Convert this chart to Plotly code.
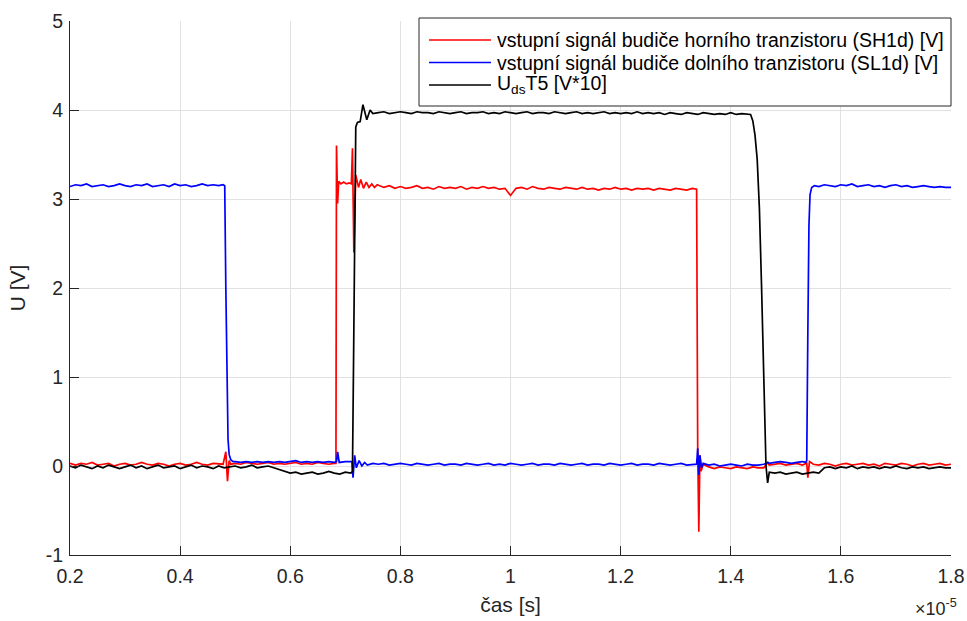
import numpy as np
import plotly.graph_objects as go

# time in units of 1e-5 s, values in V
x_ticks = [0.2, 0.4, 0.6, 0.8, 1.0, 1.2, 1.4, 1.6, 1.8]
x_tick_labels = ["0.2", "0.4", "0.6", "0.8", "1", "1.2", "1.4", "1.6", "1.8"]
y_ticks = [-1, 0, 1, 2, 3, 4, 5]

legend_names = [
    "vstupní signál budiče horního tranzistoru (SH1d) [V]",
    "vstupní signál budiče dolního tranzistoru (SL1d) [V]",
    "U<sub>ds</sub>T5 [V*10]",
]

red_pts = [
    (0.20, 0.03), (0.21, 0.01), (0.22, 0.03), (0.23, 0.02), (0.24, 0.04), (0.25, 0.01), (0.26, 0.02),
    (0.27, 0.03), (0.28, 0.00), (0.29, 0.02), (0.30, 0.03), (0.31, 0.01), (0.32, 0.02), (0.33, 0.04),
    (0.34, 0.02), (0.35, 0.01), (0.36, 0.03), (0.37, 0.02), (0.38, 0.00), (0.39, 0.02), (0.40, 0.03),
    (0.41, 0.01), (0.42, 0.02), (0.43, 0.04), (0.44, 0.02), (0.45, 0.01), (0.46, 0.03), (0.47, 0.02),
    (0.478, 0.02), (0.483, 0.16), (0.486, -0.17), (0.489, 0.06), (0.492, 0.02),
    (0.50, 0.03), (0.51, 0.02), (0.52, 0.04), (0.53, 0.03), (0.54, 0.02), (0.55, 0.03), (0.56, 0.04),
    (0.57, 0.02), (0.58, 0.03), (0.59, 0.02), (0.60, 0.03), (0.61, 0.04), (0.62, 0.02), (0.63, 0.03),
    (0.64, 0.02), (0.65, 0.04), (0.66, 0.03), (0.67, 0.02), (0.68, 0.03),
    (0.683, 0.03), (0.684, 3.60), (0.686, 2.95), (0.688, 3.20), (0.692, 3.17), (0.697, 3.19),
    (0.702, 3.17), (0.707, 3.18), (0.711, 3.17), (0.713, 3.57), (0.7155, 2.40), (0.719, 3.27),
    (0.724, 3.13), (0.728, 3.22), (0.733, 3.12), (0.738, 3.19), (0.743, 3.13), (0.748, 3.17),
    (0.753, 3.13), (0.758, 3.16),
    (0.77, 3.13), (0.78, 3.15), (0.79, 3.12), (0.80, 3.14), (0.81, 3.12), (0.82, 3.13), (0.83, 3.15),
    (0.84, 3.12), (0.85, 3.13), (0.86, 3.11), (0.87, 3.14), (0.88, 3.12), (0.89, 3.13), (0.90, 3.12),
    (0.91, 3.14), (0.92, 3.11), (0.93, 3.13), (0.94, 3.12), (0.95, 3.14), (0.96, 3.12), (0.97, 3.13),
    (0.98, 3.11), (0.99, 3.12), (1.00, 3.04), (1.01, 3.12), (1.02, 3.13), (1.03, 3.11), (1.04, 3.14),
    (1.05, 3.12), (1.06, 3.11), (1.07, 3.13), (1.08, 3.12), (1.09, 3.11), (1.10, 3.13), (1.11, 3.12),
    (1.12, 3.11), (1.13, 3.13), (1.14, 3.11), (1.15, 3.12), (1.16, 3.10), (1.17, 3.12), (1.18, 3.11),
    (1.19, 3.13), (1.20, 3.11), (1.21, 3.12), (1.22, 3.10), (1.23, 3.12), (1.24, 3.11), (1.25, 3.12),
    (1.26, 3.10), (1.27, 3.12), (1.28, 3.11), (1.29, 3.10), (1.30, 3.12), (1.31, 3.11), (1.32, 3.10),
    (1.33, 3.12), (1.338, 3.11),
    (1.340, 0.20), (1.342, -0.74), (1.344, 0.12), (1.346, -0.06), (1.350, 0.02),
    (1.36, -0.01), (1.37, -0.03), (1.38, -0.01), (1.39, -0.02), (1.40, -0.03), (1.41, -0.01),
    (1.42, -0.02), (1.43, -0.03), (1.44, -0.01), (1.45, -0.02), (1.46, -0.02),
    (1.467, 0.04), (1.47, 0.01), (1.48, 0.02), (1.49, 0.03), (1.50, 0.01), (1.51, 0.02), (1.52, 0.03),
    (1.53, 0.01), (1.538, 0.03), (1.540, -0.13), (1.543, 0.05), (1.55, 0.02),
    (1.56, 0.01), (1.57, 0.03), (1.58, 0.02), (1.59, 0.00), (1.60, 0.02), (1.61, 0.03), (1.62, 0.01),
    (1.63, 0.02), (1.64, 0.03), (1.65, 0.01), (1.66, 0.02), (1.67, 0.00), (1.68, 0.03), (1.69, 0.02),
    (1.70, 0.01), (1.71, 0.03), (1.72, 0.02), (1.73, 0.00), (1.74, 0.02), (1.75, 0.03), (1.76, 0.01),
    (1.77, 0.02), (1.78, 0.03), (1.79, 0.01), (1.80, 0.02),
]

blue_pts = [
    (0.20, 3.14), (0.21, 3.16), (0.22, 3.15), (0.23, 3.17), (0.24, 3.14), (0.25, 3.15), (0.26, 3.16),
    (0.27, 3.14), (0.28, 3.15), (0.29, 3.17), (0.30, 3.15), (0.31, 3.14), (0.32, 3.16), (0.33, 3.15),
    (0.34, 3.17), (0.35, 3.14), (0.36, 3.15), (0.37, 3.16), (0.38, 3.14), (0.39, 3.17), (0.40, 3.15),
    (0.41, 3.16), (0.42, 3.14), (0.43, 3.15), (0.44, 3.17), (0.45, 3.15), (0.46, 3.16), (0.47, 3.15),
    (0.478, 3.16), (0.481, 3.15), (0.483, 2.00), (0.485, 0.80), (0.487, 0.30), (0.489, 0.13),
    (0.492, 0.07), (0.496, 0.05),
    (0.50, 0.05), (0.51, 0.04), (0.52, 0.05), (0.53, 0.04), (0.54, 0.05), (0.55, 0.04), (0.56, 0.05),
    (0.57, 0.04), (0.58, 0.05), (0.59, 0.04), (0.60, 0.05), (0.61, 0.06), (0.62, 0.04), (0.63, 0.05),
    (0.64, 0.04), (0.65, 0.05), (0.66, 0.04), (0.67, 0.05), (0.68, 0.04),
    (0.684, 0.05), (0.686, 0.16), (0.689, 0.04), (0.70, 0.05), (0.712, 0.05), (0.714, -0.13),
    (0.717, 0.12), (0.720, -0.02), (0.725, 0.06), (0.730, 0.00), (0.735, 0.04), (0.740, 0.01),
    (0.75, 0.03),
    (0.76, 0.02), (0.77, 0.03), (0.78, 0.01), (0.79, 0.02), (0.80, 0.03), (0.81, 0.02), (0.82, 0.01),
    (0.83, 0.03), (0.84, 0.02), (0.85, 0.01), (0.86, 0.02), (0.87, 0.03), (0.88, 0.01), (0.89, 0.02),
    (0.90, 0.02), (0.91, 0.01), (0.92, 0.03), (0.93, 0.02), (0.94, 0.01), (0.95, 0.02), (0.96, 0.03),
    (0.97, 0.01), (0.98, 0.02), (0.99, 0.01), (1.00, 0.03), (1.01, 0.02), (1.02, 0.01), (1.03, 0.02),
    (1.04, 0.03), (1.05, 0.01), (1.06, 0.02), (1.07, 0.02), (1.08, 0.01), (1.09, 0.03), (1.10, 0.02),
    (1.11, 0.01), (1.12, 0.02), (1.13, 0.03), (1.14, 0.01), (1.15, 0.02), (1.16, 0.02), (1.17, 0.01),
    (1.18, 0.03), (1.19, 0.02), (1.20, 0.01), (1.21, 0.02), (1.22, 0.03), (1.23, 0.01), (1.24, 0.02),
    (1.25, 0.02), (1.26, 0.01), (1.27, 0.03), (1.28, 0.02), (1.29, 0.01), (1.30, 0.02), (1.31, 0.03),
    (1.32, 0.01), (1.33, 0.02), (1.338, 0.02),
    (1.340, 0.20), (1.342, -0.10), (1.344, 0.12), (1.347, -0.02), (1.350, 0.03),
    (1.36, 0.01), (1.37, 0.02), (1.38, 0.00), (1.39, 0.01), (1.40, 0.02), (1.41, 0.01), (1.42, 0.00),
    (1.43, 0.02), (1.44, 0.01), (1.45, 0.01), (1.46, 0.02),
    (1.468, 0.04), (1.47, 0.03), (1.48, 0.04), (1.49, 0.05), (1.50, 0.04), (1.51, 0.03), (1.52, 0.04),
    (1.53, 0.05), (1.536, 0.04), (1.538, 0.06), (1.540, 1.50), (1.542, 2.70), (1.544, 3.05),
    (1.547, 3.13), (1.552, 3.15),
    (1.56, 3.14), (1.57, 3.16), (1.58, 3.15), (1.59, 3.14), (1.60, 3.16), (1.61, 3.15), (1.62, 3.17),
    (1.63, 3.14), (1.64, 3.15), (1.65, 3.16), (1.66, 3.14), (1.67, 3.15), (1.68, 3.13), (1.69, 3.15),
    (1.70, 3.16), (1.71, 3.14), (1.72, 3.15), (1.73, 3.13), (1.74, 3.14), (1.75, 3.15), (1.76, 3.14),
    (1.77, 3.13), (1.78, 3.14), (1.79, 3.13), (1.80, 3.13),
]

black_pts = [
    (0.20, 0.00), (0.21, -0.02), (0.22, 0.01), (0.23, -0.01), (0.24, -0.03), (0.25, 0.00), (0.26, -0.02),
    (0.27, 0.01), (0.28, -0.01), (0.29, -0.03), (0.30, -0.01), (0.31, 0.01), (0.32, -0.02), (0.33, 0.00),
    (0.34, -0.03), (0.35, -0.01), (0.36, 0.01), (0.37, -0.02), (0.38, -0.01), (0.39, 0.00), (0.40, -0.03),
    (0.41, -0.01), (0.42, 0.01), (0.43, -0.02), (0.44, 0.00), (0.45, -0.01), (0.46, -0.03), (0.47, 0.00),
    (0.48, -0.02), (0.49, -0.01), (0.50, 0.00), (0.51, -0.02), (0.52, -0.01), (0.53, 0.01), (0.54, -0.02),
    (0.55, -0.01), (0.56, 0.00), (0.57, -0.02),
    (0.58, -0.04), (0.59, -0.06), (0.60, -0.08), (0.61, -0.07), (0.62, -0.09), (0.63, -0.08), (0.64, -0.07),
    (0.65, -0.09), (0.66, -0.08), (0.67, -0.06), (0.68, -0.08), (0.69, -0.09), (0.70, -0.07), (0.71, -0.08),
    (0.713, -0.06), (0.715, 1.20), (0.717, 3.00), (0.719, 3.81), (0.722, 3.86), (0.727, 3.87),
    (0.732, 4.06), (0.739, 3.89), (0.745, 4.00), (0.75, 3.96),
    (0.76, 3.97), (0.77, 3.98), (0.78, 3.96), (0.79, 3.97), (0.80, 3.98), (0.81, 3.97), (0.82, 3.96),
    (0.83, 3.98), (0.84, 3.97), (0.85, 3.97), (0.86, 3.96), (0.87, 3.98), (0.88, 3.97), (0.89, 3.96),
    (0.90, 3.97), (0.91, 3.98), (0.92, 3.96), (0.93, 3.97), (0.94, 3.97), (0.95, 3.98), (0.96, 3.96),
    (0.97, 3.97), (0.98, 3.96), (0.99, 3.98), (1.00, 3.97), (1.01, 3.96), (1.02, 3.97), (1.03, 3.98),
    (1.04, 3.96), (1.05, 3.97), (1.06, 3.97), (1.07, 3.96), (1.08, 3.98), (1.09, 3.97), (1.10, 3.96),
    (1.11, 3.97), (1.12, 3.98), (1.13, 3.96), (1.14, 3.97), (1.15, 3.96), (1.16, 3.97), (1.17, 3.98),
    (1.18, 3.96), (1.19, 3.97), (1.20, 3.96), (1.21, 3.97), (1.22, 3.96), (1.23, 3.98), (1.24, 3.96),
    (1.25, 3.97), (1.26, 3.96), (1.27, 3.97), (1.28, 3.95), (1.29, 3.97), (1.30, 3.96), (1.31, 3.95),
    (1.32, 3.97), (1.33, 3.96), (1.34, 3.95), (1.35, 3.97), (1.36, 3.96), (1.37, 3.95), (1.38, 3.96),
    (1.39, 3.95), (1.40, 3.97), (1.41, 3.95), (1.42, 3.96), (1.43, 3.95),
    (1.436, 3.95), (1.440, 3.88), (1.444, 3.72), (1.448, 3.45), (1.452, 2.90), (1.456, 2.00),
    (1.460, 1.00), (1.464, 0.00), (1.467, -0.19), (1.470, -0.07),
    (1.48, -0.08), (1.49, -0.07), (1.50, -0.09), (1.51, -0.08), (1.52, -0.07), (1.53, -0.09),
    (1.54, -0.08), (1.55, -0.07), (1.56, -0.08), (1.565, -0.05), (1.57, -0.02), (1.58, -0.01),
    (1.59, -0.03), (1.60, -0.01), (1.61, -0.02), (1.62, 0.00), (1.63, -0.03), (1.64, -0.01),
    (1.65, -0.02), (1.66, -0.01), (1.67, -0.03), (1.68, -0.01), (1.69, -0.02), (1.70, 0.00),
    (1.71, -0.02), (1.72, -0.03), (1.73, -0.01), (1.74, -0.02), (1.75, -0.01), (1.76, -0.03),
    (1.77, -0.02), (1.78, -0.01), (1.79, -0.02), (1.80, -0.02),
]

colors = ["#ff0000", "#0000ff", "#000000"]
FONT = "Liberation Sans, Arial, Helvetica, sans-serif"
AX = "#262626"

fig = go.Figure()
for pts, color, name in zip([red_pts, blue_pts, black_pts], colors, legend_names):
    t = np.array([p[0] for p in pts]) * 1e-5
    v = [p[1] for p in pts]
    fig.add_trace(go.Scatter(x=t, y=v, mode="lines", name=name,
                             line=dict(color=color, width=1.7), showlegend=False))

W, H = 967, 621
L, R, T, B = 70, 16, 21, 66
pw, ph = W - L - R, H - T - B


def px(xp):
    return (xp - L) / pw


def py(yp):
    return (H - B - yp) / ph


shapes = [dict(type="rect", xref="paper", yref="paper", x0=px(419), x1=px(951), y0=py(106), y1=py(18),
               line=dict(color=AX, width=1), fillcolor="white", layer="above")]
annotations = []
rows = [40, 62.5, 85]
for yr, color, name in zip(rows, colors, legend_names):
    shapes.append(dict(type="line", xref="paper", yref="paper", x0=px(429), x1=px(491), y0=py(yr), y1=py(yr),
                       line=dict(color=color, width=1.7), layer="above"))
    annotations.append(dict(xref="paper", yref="paper", x=px(495), y=py(yr), xanchor="left", yanchor="middle",
                            text=name, showarrow=False, font=dict(family=FONT, size=19.5, color="#000000")))

annotations.append(dict(xref="paper", yref="paper", x=px(959), y=py(607), xanchor="right", yanchor="middle",
                        text="×10<sup>-5</sup>", showarrow=False, font=dict(family=FONT, size=18, color=AX)))

axis_common = dict(showline=True, linecolor=AX, linewidth=1, ticks="inside", ticklen=9, tickwidth=1,
                   tickcolor=AX, showgrid=True, gridcolor="#e1e1e1", gridwidth=1, zeroline=False,
                   automargin=False, tickfont=dict(family=FONT, size=19.5, color=AX))

fig.update_layout(
    width=W, height=H, margin=dict(l=L, r=R, t=T, b=B),
    paper_bgcolor="white", plot_bgcolor="white",
    xaxis=dict(range=[0.2e-5, 1.8e-5], tickmode="array", tickvals=[v * 1e-5 for v in x_ticks],
               ticktext=x_tick_labels, ticklabelstandoff=4,
               title=dict(text="čas [s]", font=dict(family=FONT, size=21, color=AX), standoff=10),
               **axis_common),
    yaxis=dict(range=[-1, 5], tickmode="array", tickvals=y_ticks, ticktext=[str(v) for v in y_ticks],
               ticklabelstandoff=2,
               title=dict(text="U [V]", font=dict(family=FONT, size=21, color=AX), standoff=14), **axis_common),
    shapes=shapes, annotations=annotations, showlegend=False,
)

fig.write_html("out.html")
